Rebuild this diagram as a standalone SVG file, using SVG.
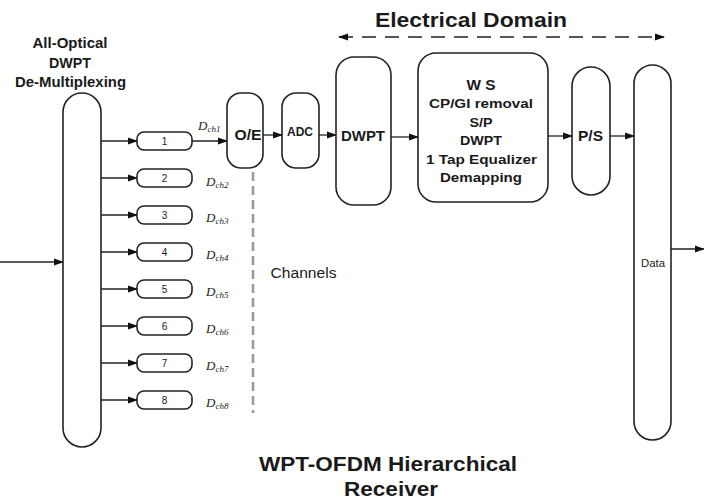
<svg xmlns="http://www.w3.org/2000/svg" width="704" height="503" viewBox="0 0 704 503">
<style>
.n{fill:#fff;stroke:#222;stroke-width:1.6}
.c{fill:none;stroke:#222;stroke-width:1.3}
.t{font-family:"Liberation Sans",Arial,sans-serif;fill:#1a1a1a;text-anchor:middle}
.b{font-weight:bold}
.d{font-family:"Liberation Serif","Times New Roman",serif;font-style:italic;font-size:13px;fill:#222}
</style>
<defs>
<marker id="ah" markerWidth="10" markerHeight="8" refX="9" refY="4" orient="auto" markerUnits="userSpaceOnUse">
<path d="M0,0.5 L10,4 L0,7.5 Z" fill="#111"/>
</marker>
<marker id="ahs" markerWidth="10" markerHeight="8" refX="1" refY="4" orient="auto" markerUnits="userSpaceOnUse">
<path d="M10,0.5 L0,4 L10,7.5 Z" fill="#111"/>
</marker>
</defs>
<rect width="704" height="503" fill="#fff"/>

<text class="t b" x="70" y="48" font-size="15" textLength="75" lengthAdjust="spacingAndGlyphs">All-Optical</text>
<text class="t b" x="70" y="68" font-size="14" textLength="42" lengthAdjust="spacingAndGlyphs">DWPT</text>
<text class="t b" x="70.5" y="87" font-size="15" textLength="111" lengthAdjust="spacingAndGlyphs">De-Multiplexing</text>

<text class="t b" x="471" y="27" font-size="21" textLength="192" lengthAdjust="spacingAndGlyphs">Electrical Domain</text>

<g id="connectors">
<line class="c" x1="0" y1="262" x2="63" y2="262" marker-end="url(#ah)"/>
<line class="c" x1="101" y1="141" x2="137" y2="141" marker-end="url(#ah)"/>
<line class="c" x1="101" y1="178" x2="137" y2="178" marker-end="url(#ah)"/>
<line class="c" x1="101" y1="215" x2="137" y2="215" marker-end="url(#ah)"/>
<line class="c" x1="101" y1="252" x2="137" y2="252" marker-end="url(#ah)"/>
<line class="c" x1="101" y1="289" x2="137" y2="289" marker-end="url(#ah)"/>
<line class="c" x1="101" y1="326" x2="137" y2="326" marker-end="url(#ah)"/>
<line class="c" x1="101" y1="363" x2="137" y2="363" marker-end="url(#ah)"/>
<line class="c" x1="101" y1="400" x2="137" y2="400" marker-end="url(#ah)"/>
<line class="c" x1="192" y1="141" x2="227" y2="141" marker-end="url(#ah)"/>
<line class="c" x1="263" y1="135" x2="282" y2="135" marker-end="url(#ah)"/>
<line class="c" x1="319" y1="135" x2="336" y2="135" marker-end="url(#ah)"/>
<line class="c" x1="391" y1="137" x2="418" y2="137" marker-end="url(#ah)"/>
<line class="c" x1="548" y1="136" x2="572" y2="136" marker-end="url(#ah)"/>
<line class="c" x1="610" y1="136" x2="634" y2="136" marker-end="url(#ah)"/>
<line class="c" x1="671" y1="249" x2="704" y2="249" marker-end="url(#ah)"/>
<line class="c" x1="339" y1="37" x2="664" y2="37" stroke-dasharray="14,9" marker-start="url(#ahs)" marker-end="url(#ah)"/>
<line x1="253" y1="172" x2="253" y2="413" stroke="#999" stroke-width="2.5" stroke-dasharray="9,5"/>
</g>

<g id="demux"><rect class="n" x="63" y="93" width="38" height="354" rx="19"/></g>

<g id="ch1"><rect class="n" x="137" y="132" width="55" height="18" rx="7"/><text class="t" x="164.5" y="145" font-size="10">1</text></g>
<g id="ch2"><rect class="n" x="137" y="169" width="55" height="18" rx="7"/><text class="t" x="164.5" y="182" font-size="10">2</text></g>
<g id="ch3"><rect class="n" x="137" y="206" width="55" height="18" rx="7"/><text class="t" x="164.5" y="219" font-size="10">3</text></g>
<g id="ch4"><rect class="n" x="137" y="243" width="55" height="18" rx="7"/><text class="t" x="164.5" y="256" font-size="10">4</text></g>
<g id="ch5"><rect class="n" x="137" y="280" width="55" height="18" rx="7"/><text class="t" x="164.5" y="293" font-size="10">5</text></g>
<g id="ch6"><rect class="n" x="137" y="317" width="55" height="18" rx="7"/><text class="t" x="164.5" y="330" font-size="10">6</text></g>
<g id="ch7"><rect class="n" x="137" y="354" width="55" height="18" rx="7"/><text class="t" x="164.5" y="367" font-size="10">7</text></g>
<g id="ch8"><rect class="n" x="137" y="391" width="55" height="18" rx="7"/><text class="t" x="164.5" y="404" font-size="10">8</text></g>

<g id="labels">
<text class="d" x="198" y="130">D<tspan font-size="9" dy="2">ch1</tspan></text>
<text class="d" x="206" y="186">D<tspan font-size="9" dy="2">ch2</tspan></text>
<text class="d" x="206" y="222">D<tspan font-size="9" dy="2">ch3</tspan></text>
<text class="d" x="206" y="259">D<tspan font-size="9" dy="2">ch4</tspan></text>
<text class="d" x="206" y="296">D<tspan font-size="9" dy="2">ch5</tspan></text>
<text class="d" x="206" y="333">D<tspan font-size="9" dy="2">ch6</tspan></text>
<text class="d" x="206" y="370">D<tspan font-size="9" dy="2">ch7</tspan></text>
<text class="d" x="206" y="407">D<tspan font-size="9" dy="2">ch8</tspan></text>
<text class="t" x="303.5" y="278" font-size="14" textLength="66" lengthAdjust="spacingAndGlyphs">Channels</text>
</g>

<g id="oe"><rect class="n" x="227" y="93" width="36" height="75" rx="14"/><text class="t b" x="248" y="140" font-size="15" textLength="27" lengthAdjust="spacingAndGlyphs">O/E</text></g>
<g id="adc"><rect class="n" x="282" y="93" width="37" height="75" rx="14"/><text class="t b" x="300" y="136" font-size="12.5" textLength="26" lengthAdjust="spacingAndGlyphs">ADC</text></g>
<g id="dwpt"><rect class="n" x="336" y="57" width="55" height="148" rx="18"/><text class="t b" x="363" y="141" font-size="15" textLength="44" lengthAdjust="spacingAndGlyphs">DWPT</text></g>
<g id="ws">
<rect class="n" x="418" y="53" width="130" height="149" rx="18"/>
<text class="t b" x="481" y="90" font-size="14" textLength="29" lengthAdjust="spacingAndGlyphs">W S</text>
<text class="t b" x="481" y="108" font-size="13.5" textLength="104" lengthAdjust="spacingAndGlyphs">CP/GI removal</text>
<text class="t b" x="481" y="127" font-size="13.5" textLength="23" lengthAdjust="spacingAndGlyphs">S/P</text>
<text class="t b" x="481" y="145" font-size="13.5" textLength="42" lengthAdjust="spacingAndGlyphs">DWPT</text>
<text class="t b" x="481.5" y="164" font-size="13.5" textLength="111" lengthAdjust="spacingAndGlyphs">1 Tap Equalizer</text>
<text class="t b" x="481" y="182" font-size="13.5" textLength="82" lengthAdjust="spacingAndGlyphs">Demapping</text>
</g>
<g id="ps"><rect class="n" x="572" y="67" width="38" height="128" rx="19"/><text class="t b" x="590.5" y="141" font-size="15" textLength="25" lengthAdjust="spacingAndGlyphs">P/S</text></g>
<g id="data"><rect class="n" x="634" y="65" width="37" height="375" rx="18.5"/><text class="t" x="653" y="267" font-size="11" textLength="24" lengthAdjust="spacingAndGlyphs">Data</text></g>

<text class="t b" x="388" y="471" font-size="21" textLength="258" lengthAdjust="spacingAndGlyphs">WPT-OFDM Hierarchical</text>
<text class="t b" x="391" y="496" font-size="21" textLength="94" lengthAdjust="spacingAndGlyphs">Receiver</text>
</svg>
